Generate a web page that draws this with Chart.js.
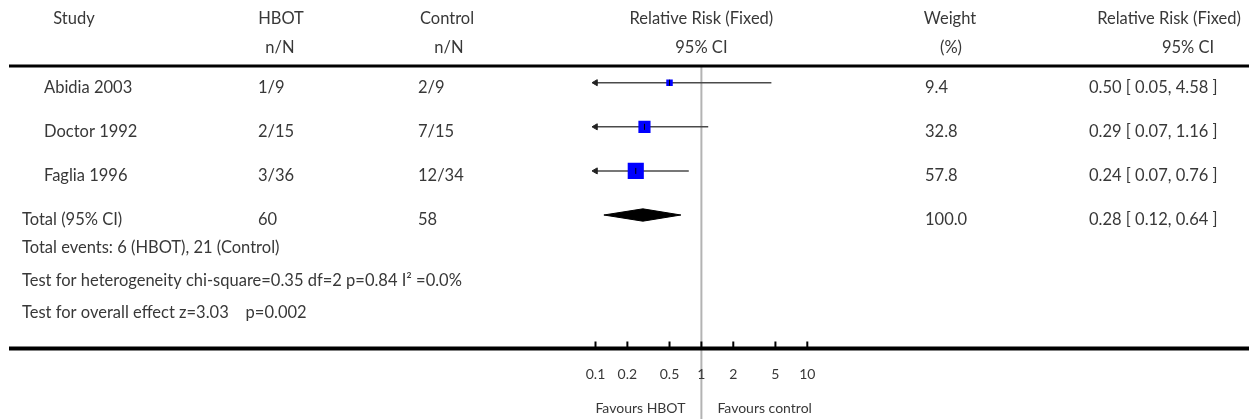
<!DOCTYPE html>
<html>
<head>
<meta charset="utf-8">
<script src="https://cdn.jsdelivr.net/npm/chart.js@4.4.0/dist/chart.umd.min.js"></script>
<style>
html, body { margin: 0; padding: 0; background: #fff; }
#wrap { width: 1249px; height: 419px; }
</style>
</head>
<body>
<div id="wrap"><canvas id="forestChart" width="1249" height="419"></canvas></div>
<script>
// study rows
const studies = ['Abidia 2003', 'Doctor 1992', 'Faglia 1996'];
const hbotEvents = ['1/9', '2/15', '3/36'];
const controlEvents = ['2/9', '7/15', '12/34'];
const weights = [9.4, 32.8, 57.8];
const rr = [0.50, 0.29, 0.24];
const rrLow = [0.05, 0.07, 0.07];
const rrHigh = [4.58, 1.16, 0.76];

// pooled row
const totalLabel = 'Total (95% CI)';
const totalHbot = '60';
const totalControl = '58';
const totalWeight = 100.0;
const totalRR = 0.28;
const totalLow = 0.12;
const totalHigh = 0.64;

const axisTicks = [0.1, 0.2, 0.5, 1, 2, 5, 10];
const footnotes = [
    'Total events: 6 (HBOT), 21 (Control)',
    'Test for heterogeneity chi-square=0.35 df=2 p=0.84 I\u00b2 =0.0%',
    'Test for overall effect z=3.03    p=0.002'
];

const axisMin = 0.1, axisMax = 10;
const totalRow = studies.length;
const TXT = '#383838';
const FONT = '16.5px Lato';

const fmtCI = (m, l, h) => `${m.toFixed(2)} [ ${l.toFixed(2)}, ${h.toFixed(2)} ]`;

const ciLines = studies.map((s, i) => ({
    type: 'line',
    data: [{ x: rrLow[i], y: i }, { x: rrHigh[i], y: i }],
    borderColor: '#4a4a4a',
    borderWidth: 1.5,
    pointRadius: 0,
    order: 5
}));

const datasets = [
    ...ciLines,
    {
        // arrows for CIs running off the left of the axis
        data: studies.map((s, i) => rrLow[i] < axisMin ? { x: axisMin, y: i } : null).filter(Boolean),
        pointStyle: 'triangle',
        rotation: 270,
        pointRadius: 3.5,
        backgroundColor: '#222',
        borderColor: '#222',
        borderWidth: 1,
        clip: false,
        order: 4
    },
    {
        data: rr.map((v, i) => ({ x: v, y: i })),
        pointStyle: 'rect',
        pointRadius: weights.map(w => 1.5 * Math.sqrt(w)),
        backgroundColor: '#0000ff',
        borderWidth: 0,
        order: 3
    },
    {
        data: rr.map((v, i) => ({ x: v, y: i })),
        pointStyle: 'line',
        rotation: 90,
        pointRadius: 3,
        borderColor: '#000',
        borderWidth: 1,
        order: 2
    },
    {
        type: 'line',
        data: [{ x: totalLow, y: totalRow }, { x: totalRR, y: totalRow - 0.14 }, { x: totalHigh, y: totalRow }],
        borderColor: '#000',
        borderWidth: 1,
        pointRadius: 0,
        fill: false,
        order: 1
    },
    {
        type: 'line',
        data: [{ x: totalLow, y: totalRow }, { x: totalRR, y: totalRow + 0.14 }, { x: totalHigh, y: totalRow }],
        borderColor: '#000',
        backgroundColor: '#000',
        borderWidth: 1,
        pointRadius: 0,
        fill: '-1',
        order: 1
    }
];

const forestFrame = {
    id: 'forestFrame',
    beforeDraw(chart) {
        // line of no effect, under the axis labels and the marks
        const { ctx, scales: { x } } = chart;
        const x1 = x.getPixelForValue(1);
        ctx.save();
        ctx.strokeStyle = '#b3b3b3';
        ctx.lineWidth = 2;
        ctx.beginPath();
        ctx.moveTo(x1, 66);
        ctx.lineTo(x1, 419);
        ctx.stroke();
        ctx.restore();
    },
    afterDraw(chart) {
        const { ctx, chartArea, scales: { x, y } } = chart;
        ctx.save();
        // rules
        ctx.fillStyle = '#000';
        ctx.fillRect(9, chartArea.top - 1.5, 1240, 3);
        ctx.fillRect(9, chartArea.bottom - 2, 1240, 4);
        // tick marks
        ctx.strokeStyle = '#000';
        ctx.lineWidth = 2;
        axisTicks.forEach(v => {
            const px = x.getPixelForValue(v);
            ctx.beginPath();
            ctx.moveTo(px, chartArea.bottom - 7);
            ctx.lineTo(px, chartArea.bottom);
            ctx.stroke();
        });

        ctx.fillStyle = TXT;
        ctx.font = FONT;
        ctx.textBaseline = 'middle';
        const x1 = x.getPixelForValue(1);

        // headers
        ctx.textAlign = 'center';
        ctx.fillText('Study', 74, 19);
        ctx.fillText('HBOT', 281, 19);
        ctx.fillText('n/N', 280, 48);
        ctx.fillText('Control', 447, 19);
        ctx.fillText('n/N', 449, 48);
        ctx.fillText('Relative Risk (Fixed)', x1, 19);
        ctx.fillText('95% CI', x1, 48);
        ctx.fillText('Weight', 950, 19);
        ctx.fillText('(%)', 951, 48);
        ctx.fillText('Relative Risk (Fixed)', 1169, 19);
        ctx.fillText('95% CI', 1188, 48);

        // rows
        ctx.textAlign = 'left';
        studies.forEach((s, i) => {
            const py = y.getPixelForValue(i) + 4.5;
            ctx.fillText(s, 44, py);
            ctx.fillText(hbotEvents[i], 258, py);
            ctx.fillText(controlEvents[i], 418, py);
            ctx.fillText(weights[i].toFixed(1), 925, py);
            ctx.fillText(fmtCI(rr[i], rrLow[i], rrHigh[i]), 1089, py);
        });
        const ty = y.getPixelForValue(totalRow) + 4.5;
        ctx.fillText(totalLabel, 22, ty);
        ctx.fillText(totalHbot, 258, ty);
        ctx.fillText(totalControl, 418, ty);
        ctx.fillText(totalWeight.toFixed(1), 925, ty);
        ctx.fillText(fmtCI(totalRR, totalLow, totalHigh), 1089, ty);

        [248, 281, 313].forEach((py, i) => ctx.fillText(footnotes[i], 22, py));

        // favours labels
        ctx.font = '14px Lato';
        ctx.textAlign = 'right';
        ctx.fillText('Favours HBOT', x1 - 16, 408);
        ctx.textAlign = 'left';
        ctx.fillText('Favours control', x1 + 16, 408);
        ctx.restore();
    }
};

new Chart(document.getElementById('forestChart'), {
    type: 'scatter',
    data: { datasets },
    options: {
        responsive: false,
        animation: false,
        layout: { padding: { left: 595.5, right: 441.7, top: 66, bottom: 0 } },
        plugins: { legend: { display: false }, tooltip: { enabled: false } },
        scales: {
            x: {
                type: 'logarithmic',
                min: axisMin,
                max: axisMax,
                grid: { display: false, drawTicks: false },
                border: { display: false },
                afterBuildTicks: (s) => { s.ticks = axisTicks.map(v => ({ value: v })); },
                afterFit: (s) => { s.height = 70.5; },
                ticks: {
                    autoSkip: false,
                    maxRotation: 0,
                    padding: 18,
                    color: TXT,
                    font: { family: 'Lato', size: 14 },
                    callback: (v) => String(v)
                }
            },
            y: {
                type: 'linear',
                reverse: true,
                min: -0.379,
                max: 6.027,
                display: false
            }
        }
    },
    plugins: [forestFrame]
});
</script>
</body>
</html>
